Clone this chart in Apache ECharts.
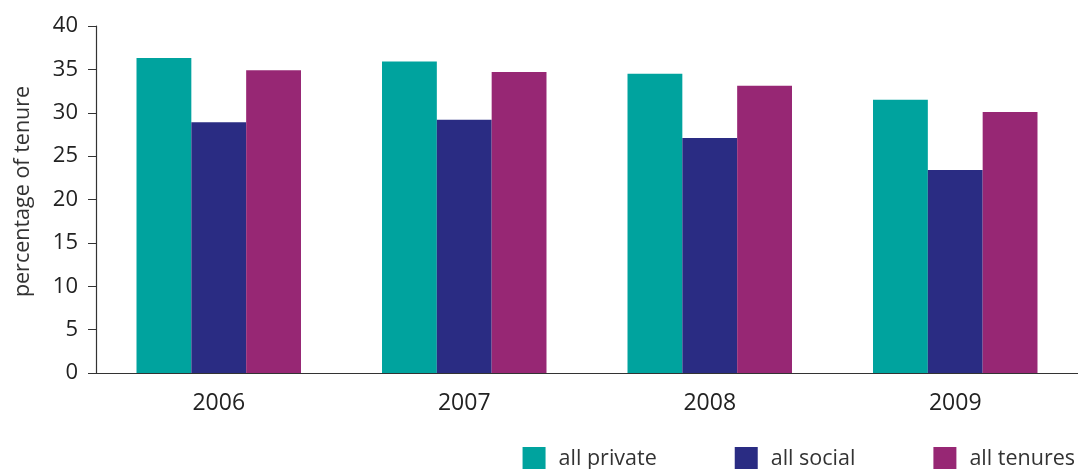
<!DOCTYPE html>
<html>
<head>
<meta charset="utf-8">
<script src="https://cdn.jsdelivr.net/npm/echarts@6/dist/echarts.min.js"></script>
<style>html,body{margin:0;padding:0;background:#fff;}#c{width:1078px;height:469px;}</style>
</head>
<body>
<div id="c"></div>
<script>
const categories = ['2006', '2007', '2008', '2009'];
const allPrivate = [36.3, 35.9, 34.5, 31.5];
const allSocial = [28.9, 29.2, 27.1, 23.4];
const allTenures = [34.9, 34.7, 33.1, 30.1];
const yTicks = { min: 0, max: 40, interval: 5 };

const FONT = '"Open Sans", "Noto Sans", sans-serif';
const chart = echarts.init(document.getElementById('c'));
chart.setOption({
  animation: false,
  textStyle: { fontFamily: FONT },
  grid: { left: 96, right: -2, top: 26, bottom: 96, containLabel: false },
  legend: {
    right: -2, top: 442,
    itemWidth: 23, itemHeight: 23, itemGap: 78,
    icon: 'rect',
    textStyle: { fontSize: 21.5, color: '#333', fontFamily: FONT, padding: [0, 0, 0, 8] },
    data: ['all private', 'all social', 'all tenures']
  },
  xAxis: {
    type: 'category', data: categories,
    axisLine: { lineStyle: { color: '#333', width: 1.2 } },
    axisTick: { length: 7, lineStyle: { color: '#333' } },
    axisLabel: { fontSize: 23, color: '#222', margin: 19, fontFamily: FONT }
  },
  yAxis: {
    type: 'value', min: yTicks.min, max: yTicks.max, interval: yTicks.interval,
    name: 'percentage of tenure', nameLocation: 'middle', nameGap: 62,
    nameTextStyle: { fontSize: 21.5, color: '#333', fontFamily: FONT, padding: [0, 0, 0, 16] },
    axisLine: { show: true, lineStyle: { color: '#333', width: 1.2 } },
    axisTick: { show: true, length: 8, lineStyle: { color: '#333' } },
    splitLine: { show: false },
    axisLabel: { fontSize: 22, color: '#222', margin: 18, fontFamily: FONT }
  },
  series: [
    { name: 'all private', type: 'bar', data: allPrivate, itemStyle: { color: '#00A39E' }, barGap: '0%', barCategoryGap: '33%' },
    { name: 'all social', type: 'bar', data: allSocial, itemStyle: { color: '#2A2C83' } },
    { name: 'all tenures', type: 'bar', data: allTenures, itemStyle: { color: '#972774' } }
  ]
});
</script>
</body>
</html>
